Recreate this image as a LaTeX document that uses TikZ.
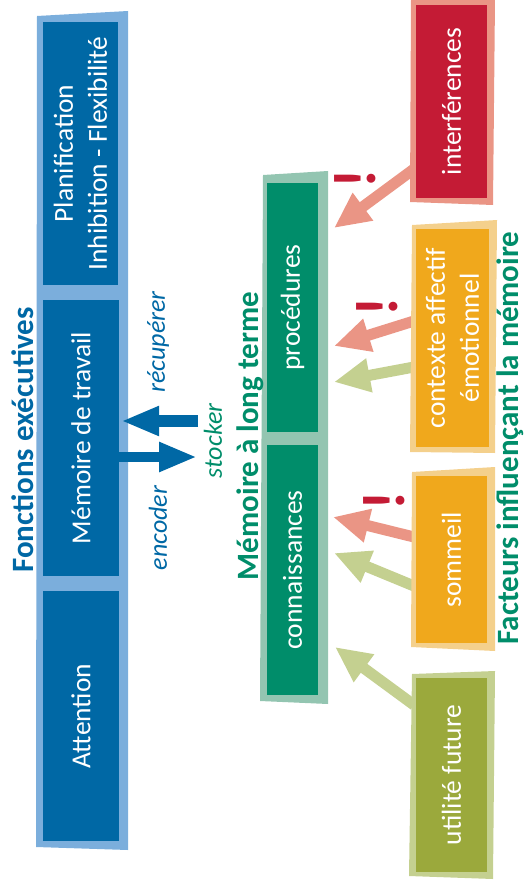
\documentclass[tikz,border=0pt]{standalone}
\usepackage{fontspec}
\setmainfont{Carlito}
\usetikzlibrary{arrows.meta}
\definecolor{fblue}{HTML}{0068A5}
\definecolor{fbluel}{HTML}{7BAEDC}
\definecolor{fgreen}{HTML}{008D6A}
\definecolor{fgreenl}{HTML}{93C5B1}
\definecolor{fred}{HTML}{C41B35}
\definecolor{fredl}{HTML}{EA9585}
\definecolor{forange}{HTML}{F0A81C}
\definecolor{forangel}{HTML}{F4D08C}
\definecolor{folive}{HTML}{9BA93C}
\definecolor{folivel}{HTML}{C4D090}
\begin{document}
\begin{tikzpicture}[x=1pt,y=-1pt,
  box/.style={rotate=90, inner sep=0pt, text=white, align=center,
    font=\fontsize{27.5}{34}\selectfont},
  title/.style={rotate=90, inner sep=0pt, font=\bfseries\fontsize{31}{31}\selectfont},
  verb/.style={rotate=90, inner sep=0pt, font=\itshape\fontsize{26}{26}\selectfont},
  bang/.style={rotate=90, inner sep=0pt, text=fred, font=\bfseries\fontsize{60}{60}\selectfont},
  fat/.style={line width=11pt, -{Triangle[length=36pt,width=32pt]}},
  bluearrow/.style={fblue, -{Triangle[length=38pt,width=27.5pt]}}
]
\useasboundingbox (0,0) rectangle (527,893);

% ---------- frames ----------
\fill[fbluel] (37,16) -- (128,11) -- (128,850) -- (36,847) -- cycle;
\fill[fgreenl] (263,175) -- (328,171) -- (328,704) -- (260,701) -- cycle;

% ---------- factor arrows (under the factor boxes) ----------
\coordinate (s1) at (414,169);  \coordinate (t1) at (334,228);
\coordinate (s2) at (414,321);  \coordinate (t2) at (334,346);
\coordinate (s3) at (414,367);  \coordinate (t3) at (334,382);
\coordinate (s4) at (414,537);  \coordinate (t4) at (333,517);
\coordinate (s5) at (414,586);  \coordinate (t5) at (334,553);
\coordinate (s6) at (414,705);  \coordinate (t6) at (335,647);
\draw[fat, fredl] (s1) -- (t1);
\draw[fat, fredl] (s2) -- (t2);
\draw[fat, folivel] (s3) -- (t3);
\draw[fat, fredl] (s4) -- (t4);
\draw[fat, folivel] (s5) -- (t5);
\draw[fat, folivel] (s6) -- (t6);

% ---------- factor frames ----------
\fill[fredl] (411,-1) -- (495,-1) -- (493,205) -- (410,202) -- cycle;
\fill[forangel] (412,225) -- (497,220) -- (495,453) -- (410,452) -- cycle;
\fill[forangel] (412,472) -- (495,467) -- (495,651) -- (411,647) -- cycle;
\fill[folivel] (412,674) -- (495,671) -- (493,879) -- (409,876) -- cycle;

% ---------- executive functions ----------
\node[box, fill=fblue, minimum width=263pt, minimum height=75pt] (plan) at (80.5,153.5)
  {Planification\\Inhibition - Flexibilité};
\node[box, fill=fblue, minimum width=276pt, minimum height=76pt] (mdt) at (81,438)
  {Mémoire de travail};
\node[box, fill=fblue, minimum width=250pt, minimum height=76pt] (att) at (81,716)
  {Attention};
\node[title, text=fblue] (fe) at (23,440) {Fonctions exécutives};

% ---------- long term memory ----------
\node[box, fill=fgreen, minimum width=249pt, minimum height=51pt] (proc) at (292.5,307.5)
  {procédures};
\node[box, fill=fgreen, minimum width=250pt, minimum height=51pt] (conn) at (292.5,570)
  {connaissances};
\node[title, text=fgreen] (mlt) at (250,436) {Mémoire à long terme};

% ---------- factors ----------
\node[box, fill=fred, minimum width=193pt, minimum height=71pt] (interf) at (451.5,101.5)
  {interférences};
\node[box, fill=forange, minimum width=218pt, minimum height=73pt] (ctx) at (452.5,338)
  {contexte affectif\\émotionnel};
\node[box, fill=forange, minimum width=167pt, minimum height=71pt] (somm) at (451.5,559.5)
  {sommeil};
\node[box, fill=folive, minimum width=194pt, minimum height=71pt] (util) at (451.5,775)
  {utilité future};
\node[title, text=fgreen] (fim) at (510,438) {Facteurs influençant la mémoire};

% ---------- warning marks ----------
\node[bang] (b1) at (355,179) {!};
\node[bang] (b2) at (377,307) {!};
\node[bang] (b3) at (384,501) {!};

% ---------- encode / retrieve ----------
\coordinate (rs) at (198,421);
\coordinate (ee) at (197,457);
\draw[bluearrow, line width=11.7pt] (rs) -- ([xshift=2pt]mdt.south |- rs);
\draw[bluearrow, line width=10pt] (mdt.south |- ee) -- (ee);
\node[verb, text=fblue] (rec) at (158,342) {récupérer};
\node[verb, text=fblue] (enc) at (158,528) {encoder};
\node[verb, text=fgreen] (sto) at (213,441) {stocker};
\end{tikzpicture}
\end{document}
